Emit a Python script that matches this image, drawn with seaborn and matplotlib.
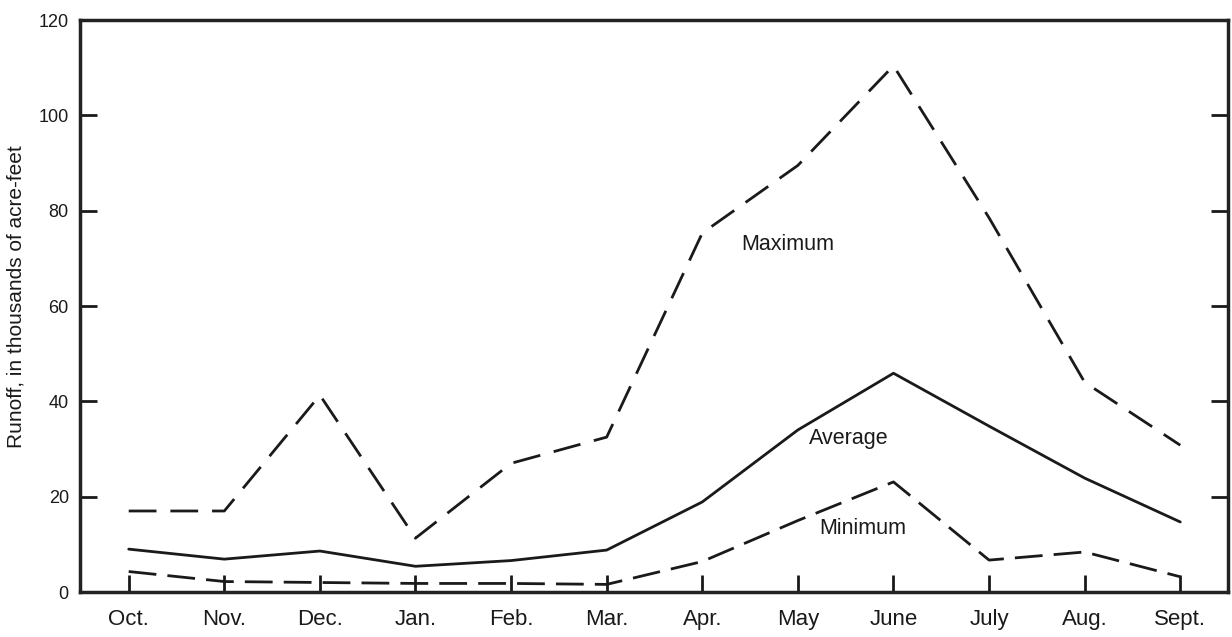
import matplotlib
matplotlib.use("Agg")
import matplotlib.pyplot as plt
import seaborn as sns
import numpy as np
import pandas as pd

months = ["Oct.", "Nov.", "Dec.", "Jan.", "Feb.", "Mar.", "Apr.", "May", "June", "July", "Aug.", "Sept."]
maximum = [17.0, 17.0, 41.3, 11.3, 27.0, 32.5, 75.3, 89.5, 110.4, 78.5, 44.0, 30.8]
average = [9.0, 6.9, 8.6, 5.4, 6.6, 8.8, 18.9, 34.0, 45.9, 34.8, 23.9, 14.7]
minimum = [4.3, 2.2, 2.0, 1.8, 1.8, 1.6, 6.4, 15.0, 23.1, 6.7, 8.4, 3.2]
y_ticks = [0, 20, 40, 60, 80, 100, 120]

sns.set_style("ticks")
plt.rcParams["font.family"] = ["Liberation Sans", "DejaVu Sans"]

df = pd.DataFrame({"pos": np.arange(len(months)), "Maximum": maximum,
                   "Average": average, "Minimum": minimum})

fig = plt.figure(figsize=(12.32, 6.37), dpi=100)
ax = fig.add_axes([0.0649, 0.0706, 0.9319, 0.898])

ink = "#1a1a1a"
sns.lineplot(data=df, x="pos", y="Maximum", ax=ax, color=ink, lw=2.0,
             linestyle=(0, (10, 5)))
sns.lineplot(data=df, x="pos", y="Average", ax=ax, color=ink, lw=2.0)
sns.lineplot(data=df, x="pos", y="Minimum", ax=ax, color=ink, lw=2.0,
             linestyle=(0, (10, 4)))

ax.set_xlim(-0.51, 11.5)
ax.set_ylim(0, 120)
ax.set_xticks(df["pos"])
ax.set_xticklabels(months, fontsize=16, color=ink)
ax.set_yticks(y_ticks)
ax.set_yticklabels([str(v) for v in y_ticks], fontsize=13, color=ink)
ax.tick_params(axis="x", direction="in", length=12, width=2, pad=12, color=ink)
ax.tick_params(axis="y", direction="in", length=12, width=2, right=True, pad=8, color=ink)
for s in ax.spines.values():
    s.set_visible(True)
    s.set_linewidth(2.5)
    s.set_color("#222222")

ax.set_xlabel("")
ax.set_ylabel("Runoff, in thousands of acre-feet", fontsize=15, color=ink)
ax.yaxis.set_label_coords(-0.0475, 0.517)

ax.text(6.89, 72.8, "Maximum", fontsize=15.5, ha="center", va="center", color=ink)
ax.text(7.53, 32.3, "Average", fontsize=15.5, ha="center", va="center", color=ink)
ax.text(7.68, 13.3, "Minimum", fontsize=15.5, ha="center", va="center", color=ink)

fig.savefig("out.png", dpi=100)
